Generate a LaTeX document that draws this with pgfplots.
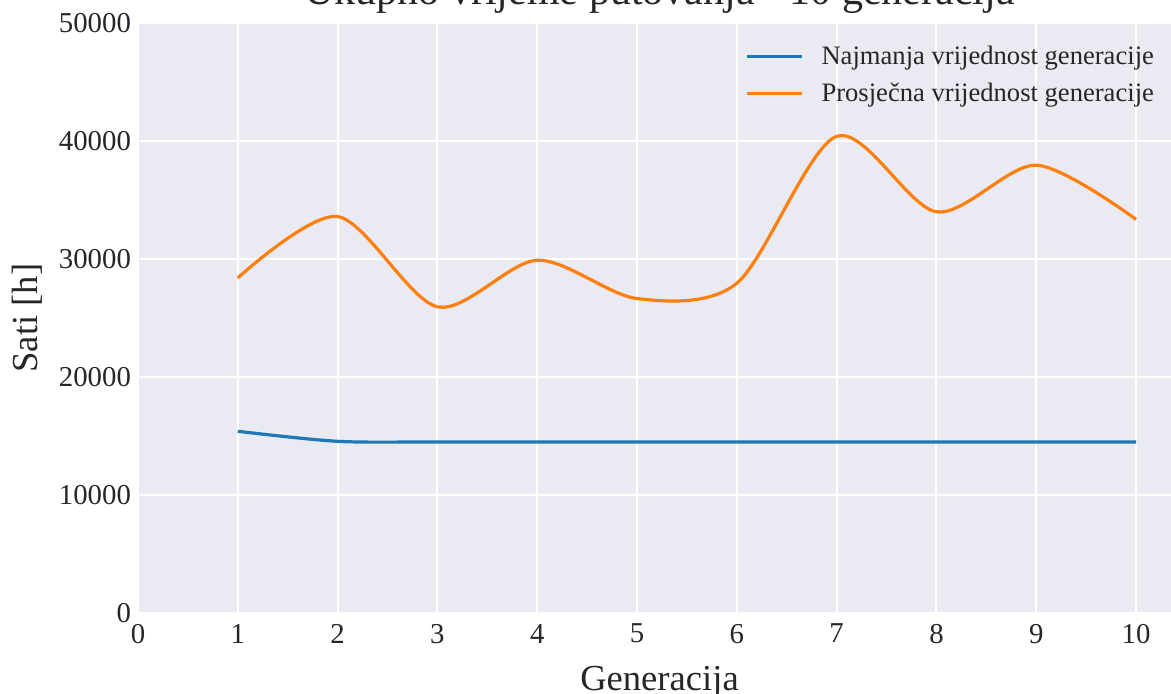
\documentclass[border=0pt]{standalone}
\usepackage{fontspec}
\setmainfont{Liberation Serif}
\usepackage{pgfplots}
\pgfplotsset{compat=1.18}
\definecolor{sbbg}{HTML}{EAEAF2}
\definecolor{sbtext}{HTML}{262626}
\definecolor{mplblue}{HTML}{1F77B4}
\definecolor{mplorange}{HTML}{FF7F0E}
\begin{document}
\begin{tikzpicture}
\begin{axis}[
  scale only axis,
  width=521.5pt, height=295pt,
  xmin=0, xmax=10.45,
  ymin=0, ymax=50000,
  xtick={0,1,...,10},
  ytick={0,10000,...,50000},
  scaled y ticks=false,
  /pgf/number format/assume math mode=true,
  yticklabel style={/pgf/number format/fixed, /pgf/number format/1000 sep={}},
  xticklabel style={yshift=-2pt},
  tick label style={font=\fontsize{14.4}{16}\selectfont, text=sbtext},
  major tick length=0pt,
  axis line style={draw=none},
  axis background/.style={fill=sbbg},
  grid=major,
  major grid style={white, line width=1pt},
  title={Ukupno vrijeme putovanja - 10 generacija},
  title style={at={(axis description cs:0.5,1)}, anchor=base, yshift=3.5pt,
    font=\fontsize{21}{24}\selectfont, text=sbtext},
  xlabel={Generacija},
  xlabel style={at={(axis description cs:0.5,0)}, anchor=base, yshift=-38.5pt,
    font=\fontsize{18.3}{21}\selectfont, text=sbtext},
  ylabel={Sati [h]},
  ylabel style={at={(axis description cs:-0.0968,0.5)}, anchor=base, rotate=0,
    font=\fontsize{18.3}{21}\selectfont, text=sbtext},
  legend cell align=left,
  legend style={draw=none, fill=none, at={(axis description cs:0.984,0.976)},
    anchor=north east, font=\fontsize{13.3}{15}\selectfont, text=sbtext,
    row sep=3.8pt, column sep=7pt},
  legend image code/.code={\draw[#1] (0pt,0pt) -- (27.5pt,0pt);},
]
\addplot[mplblue, line width=1.6pt, smooth] coordinates {
  (1,15400) (2,14550) (3,14500) (4,14500) (5,14500)
  (6,14500) (7,14500) (8,14500) (9,14500) (10,14500)
};
\addlegendentry{Najmanja vrijednost generacije}
\addplot[mplorange, line width=1.6pt, smooth] coordinates {
  (1,28400) (2,33600) (3,25950) (4,29900) (5,26650)
  (6,27950) (7,40400) (8,34000) (9,37950) (10,33350)
};
\addlegendentry{Prosječna vrijednost generacije}
\end{axis}
\pgfresetboundingbox
\useasboundingbox (-69pt,-40pt) rectangle (516.5pt,306.5pt);
\end{tikzpicture}
\end{document}
